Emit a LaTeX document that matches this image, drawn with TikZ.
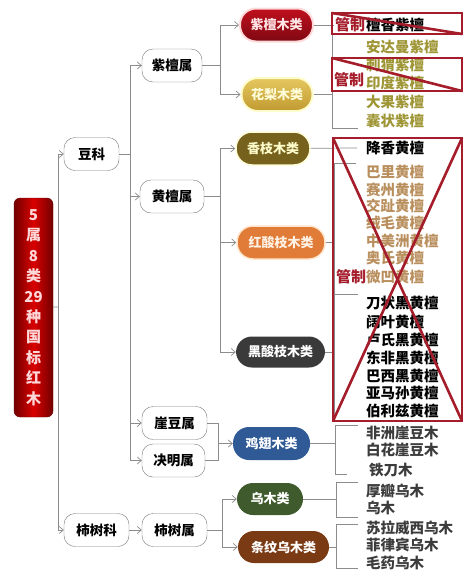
\documentclass[tikz,border=0pt]{standalone}
\usepackage{fontspec}
\setmainfont{Noto Sans CJK SC}
\usetikzlibrary{arrows.meta}
\definecolor{linegray}{HTML}{8C8C8C}
\definecolor{boxgray}{HTML}{7A7A7A}
\definecolor{guanred}{HTML}{A51D2B}
\definecolor{olive}{HTML}{9E9535}
\definecolor{tan}{HTML}{B98F5E}
\definecolor{darktext}{HTML}{3C3C3C}
\definecolor{zitantop}{HTML}{C0101E}
\definecolor{zitanbot}{HTML}{7E0812}
\definecolor{hualitop}{HTML}{E6C860}
\definecolor{hualibot}{HTML}{C09A30}
\definecolor{xiangzhi}{HTML}{76621C}
\definecolor{hongsuan}{HTML}{E07C38}
\definecolor{heisuan}{HTML}{3A3A3A}
\definecolor{jichi}{HTML}{2F5A96}
\definecolor{wumuc}{HTML}{3F5A2C}
\definecolor{tiaowen}{HTML}{7A3A14}

\begin{document}
\begin{tikzpicture}[x=1pt,y=-1pt,
	ln/.style={draw=linegray,line width=0.7pt},
	arr/.style={ln,-{Straight Barb[length=4pt,width=7pt]}},
	shu/.style={draw=boxgray,fill=white,rounded corners=11pt,minimum height=33pt,inner sep=0pt,font=\fontsize{13.5}{13.5}\selectfont\bfseries},
	lei/.style={rounded corners=16pt,minimum height=33pt,inner sep=0pt,font=\fontsize{13}{13}\selectfont\bfseries},
	zhong/.style={anchor=west,inner sep=0pt,font=\fontsize{14.5}{14.5}\selectfont\bfseries},
	guanzhi/.style={draw=guanred,line width=2.6pt},
	gz/.style={inner sep=0pt,text=guanred,font=\fontsize{15}{15}\selectfont\bfseries}]
	\useasboundingbox (0,0) rectangle (465,573);

	\node[rounded corners=6pt,minimum width=39pt,minimum height=219pt,align=center,
		left color=red!45!black,right color=red!45!black,middle color=red!85!black,
		draw=red!40!black,text=red!15,font=\fontsize{15}{20.4}\selectfont\bfseries] (root) at (33.5,307.5)
		{5\\属\\8\\类\\29\\种\\国\\标\\红\\木};

	\node[shu,minimum width=55pt] (douke) at (91.5,154) {豆科};
	\node[shu,minimum width=60pt] (zitanshu) at (172,65.5) {紫檀属};
	\node[shu,minimum width=64pt] (huangtanshu) at (172,196.5) {黄檀属};
	\node[shu,minimum width=65pt] (yadoushu) at (174.5,423) {崖豆属};
	\node[shu,minimum width=63pt] (juemingshu) at (173.5,460.5) {决明属};
	\node[shu,minimum width=65pt] (shike) at (96.5,530) {柿树科};
	\node[shu,minimum width=65pt] (shishu) at (174.5,530) {柿树属};

	\node[lei,minimum width=73pt,top color=zitantop,bottom color=zitanbot,draw=red!15,line width=2pt,text=red!10] (zitanlei) at (276.5,25) {紫檀木类};
	\node[lei,minimum width=71pt,top color=hualitop,bottom color=hualibot,draw=yellow!20,line width=2pt,text=yellow!15] (hualilei) at (277,94.5) {花梨木类};
	\node[lei,minimum width=74pt,fill=xiangzhi,draw=yellow!15,line width=1.5pt,text=yellow!20] (xiangzhilei) at (273,148.5) {香枝木类};
	\node[lei,minimum width=88pt,fill=hongsuan,draw=orange!20,line width=1.5pt,text=orange!10] (hongsuanzhilei) at (281,242.5) {红酸枝木类};
	\node[lei,minimum width=89pt,minimum height=31pt,fill=heisuan,text=white] (heisuanzhilei) at (280.5,352) {黑酸枝木类};
	\node[lei,minimum width=77pt,fill=jichi,text=white] (jichilei) at (271.5,443.5) {鸡翅木类};
	\node[lei,minimum width=66pt,minimum height=32pt,fill=wumuc,text=white] (wumulei) at (270,499) {乌木类};
	\node[lei,minimum width=91pt,minimum height=32pt,fill=tiaowen,text=white] (tiaowenlei) at (283.5,547) {条纹乌木类};

	\node[zhong] (tanxiang) at (366,25) {檀香紫檀};
	\node[zhong,text=olive] (andaman) at (366,47) {安达曼紫檀};
	\node[zhong,text=olive] (ciwei) at (366,65) {刺猬紫檀};
	\node[zhong,text=olive] (yindu) at (366,83) {印度紫檀};
	\node[zhong,text=olive] (daguo) at (366,102) {大果紫檀};
	\node[zhong,text=olive] (nangzhuang) at (366,121) {囊状紫檀};
	\node[zhong] (jiangxiang) at (366,148) {降香黄檀};
	\node[zhong,text=tan] (bali) at (366,172) {巴里黄檀};
	\node[zhong,text=tan] (saizhou) at (366,190) {赛州黄檀};
	\node[zhong,text=tan] (jiaozhi) at (366,206) {交趾黄檀};
	\node[zhong,text=tan] (rongmao) at (366,223) {绒毛黄檀};
	\node[zhong,text=tan] (zhongmeizhou) at (366,241) {中美洲黄檀};
	\node[zhong,text=tan] (aoshi) at (366,258) {奥氏黄檀};
	\node[zhong,text=tan] (weiao) at (366,277) {微凹黄檀};
	\node[zhong] (daozhuang) at (366,303) {刀状黑黄檀};
	\node[zhong] (kuoye) at (366,322) {阔叶黄檀};
	\node[zhong] (lushi) at (366,340) {卢氏黑黄檀};
	\node[zhong] (dongfei) at (366,358) {东非黑黄檀};
	\node[zhong] (baxi) at (366,376) {巴西黑黄檀};
	\node[zhong] (yamasun) at (366,393) {亚马孙黄檀};
	\node[zhong] (bolizi) at (366,411) {伯利兹黄檀};
	\node[zhong,text=darktext] (feizhou) at (366,433) {非洲崖豆木};
	\node[zhong,text=darktext] (baihua) at (366,450) {白花崖豆木};
	\node[zhong,text=darktext] (tiedao) at (369,470) {铁刀木};
	\node[zhong,text=darktext] (houban) at (366,491) {厚瓣乌木};
	\node[zhong,text=darktext] (wumu) at (366,508) {乌木};
	\node[zhong,text=darktext] (sulaweixi) at (366,528) {苏拉威西乌木};
	\node[zhong,text=darktext] (feilvbin) at (366,545) {菲律宾乌木};
	\node[zhong,text=darktext] (maoyao) at (366,563) {毛药乌木};

	\coordinate (tr) at (58,307);
	\draw[ln] (root) -- (tr);
	\draw[arr] (tr) |- (douke);
	\draw[arr] (tr) |- (shike);
	\coordinate (dk) at (130,154);
	\draw[ln] (douke) -- (dk);
	\draw[arr] (dk) |- (zitanshu);
	\draw[arr] (dk) |- (huangtanshu);
	\draw[arr] (dk) |- (yadoushu);
	\draw[arr] (dk) |- (juemingshu);
	\draw[arr] (shike) -- (shishu);

	\coordinate (zs) at (220,65.5);
	\draw[ln] (zitanshu) -- (zs);
	\draw[arr] (zs) |- (zitanlei);
	\draw[arr] (zs) |- (hualilei);
	\coordinate (hs) at (220,196.5);
	\draw[ln] (huangtanshu) -- (hs);
	\draw[arr] (hs) |- (xiangzhilei);
	\draw[arr] (hs) |- (hongsuanzhilei);
	\draw[arr] (hs) |- (heisuanzhilei);
	\coordinate (yj) at (218,443.5);
	\draw[ln] (yadoushu) -| (yj);
	\draw[ln] (juemingshu) -| (yj);
	\draw[arr] (yj) -- (jichilei);
	\coordinate (ss) at (222,530);
	\draw[ln] (shishu) -- (ss);
	\draw[arr] (ss) |- (wumulei);
	\draw[arr] (ss) |- (tiaowenlei);

	\coordinate (zt) at (334,25);
	\draw[ln] (zitanlei) -- (zt);
	\coordinate (hl1) at (332,34);
	\coordinate (hl2) at (332,128);
	\draw[ln] (hualilei) -- (hualilei -| hl1);
	\draw[ln] (hl1) ++(26,0) -- (hl1) -- (hl2) -- ++(26,0);
	\draw[ln] (xiangzhilei) -- ([xshift=-9pt]jiangxiang.west);
	\coordinate (hz1) at (334,163);
	\coordinate (hz2) at (334,294);
	\draw[ln] (hongsuanzhilei) -- (hongsuanzhilei -| hz1);
	\draw[ln] (hz1) ++(22,0) -- (hz1) -- (hz2) -- ++(24,0);
	\coordinate (hei1) at (334,294);
	\coordinate (hei2) at (334,420);
	\draw[ln] (heisuanzhilei) -- (heisuanzhilei -| hei1);
	\draw[ln] (hei1) -- (hei2);
	\coordinate (jc1) at (335,425);
	\coordinate (jc2) at (335,474);
	\draw[ln] (jichilei) -- (jichilei -| jc1);
	\draw[ln] (jc1) ++(23,0) -- (jc1) -- (jc2) -- ++(12,0);
	\coordinate (wm1) at (336,482);
	\coordinate (wm2) at (336,517);
	\draw[ln] (wumulei) -- (wumulei -| wm1);
	\draw[ln] (wm1) ++(22,0) -- (wm1) -- (wm2) -- ++(22,0);
	\coordinate (tw1) at (336,524);
	\coordinate (tw2) at (336,568);
	\draw[ln] (tiaowenlei) -- (tiaowenlei -| tw1);
	\draw[ln] (tw1) ++(22,0) -- (tw1) -- (tw2) -- ++(22,0);

	\node[gz] (gz1) at (350,25) {管制};
	\node[gz] (gz2) at (349,80) {管制};
	\node[gz] (gz3) at (351,277) {管制};
	\draw[guanzhi] (332,13) rectangle (462,34);
	\draw[guanzhi] (332,13) -- (462,34);
	\draw[guanzhi] (332,58) rectangle (462,91);
	\draw[guanzhi] (332,58) -- (462,91);
	\draw[guanzhi] (333,138) rectangle (462,421);
	\draw[guanzhi] (333,138) -- (462,421);
	\draw[guanzhi] (462,138) -- (333,421);
\end{tikzpicture}
\end{document}
